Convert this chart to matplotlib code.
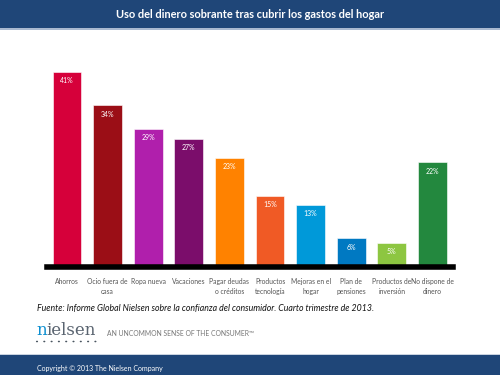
import matplotlib
matplotlib.use("Agg")
import matplotlib.pyplot as plt
from matplotlib.patches import Rectangle, Circle

plt.rcParams['font.family'] = ['Lato', 'DejaVu Sans']

# datos
categorias = ["Ahorros", "Ocio fuera de\ncasa", "Ropa nueva", "Vacaciones",
              "Pagar deudas\no créditos", "Productos\ntecnología",
              "Mejoras en el\nhogar", "Plan de\npensiones",
              "Productos de\ninversión", "No dispone de\ndinero"]
valores = [41, 34, 29, 27, 23, 15, 13, 6, 5, 22]
etiquetas = ["41%", "34%", "29%", "27%", "23%", "15%", "13%", "6%", "5%", "22%"]
colores = ["#d6003a", "#9b0e16", "#b01fac", "#7b0d6b", "#ff8200",
           "#f05a25", "#0099d9", "#0079c2", "#8dc641", "#23883e"]

titulo = "Uso del dinero sobrante tras cubrir los gastos del hogar"
fuente = "Fuente: Informe Global Nielsen sobre la confianza del consumidor. Cuarto trimestre de 2013."
lema = "AN UNCOMMON SENSE OF THE CONSUMER\u2122"
copyright_txt = "Copyright \u00a9 2013 The Nielsen Company"

azul = "#1f4678"

fig = plt.figure(figsize=(5, 3.75), dpi=100)
fig.patch.set_facecolor("white")

# barra de titulo
fig.patches.append(Rectangle((0, 1 - 28 / 375), 1, 28 / 375, transform=fig.transFigure,
                             facecolor=azul, edgecolor="none"))
fig.patches.append(Rectangle((0, 1 - 29.5 / 375), 1, 1.5 / 375, transform=fig.transFigure,
                             facecolor="#a9b9d0", edgecolor="none"))
fig.text(0.5, 1 - 15 / 375, titulo, color="white", fontsize=7.95, fontweight="bold",
         ha="center", va="center")

# grafico
ax = fig.add_axes([46.7 / 500, 1 - 267 / 375, 406 / 500, 195 / 375])
x = list(range(len(valores)))
ax.bar(x, valores, width=0.71, color=colores, edgecolor="#ffffff", linewidth=0.4)
for i, v in enumerate(valores):
    ax.text(i, v - 1.1, etiquetas[i], color="white", fontsize=5, ha="center", va="top")
ax.set_xlim(-0.5, len(valores) - 0.5)
ax.set_ylim(0, 41)
ax.axhline(0, color="black", linewidth=4, clip_on=False, zorder=5)
ax.set_yticks([])
ax.set_xticks(x)
ax.set_xticklabels(categorias, fontsize=4.9, color="#555555", linespacing=1.55,
                   multialignment="center")
ax.tick_params(axis="x", length=0, pad=8)
for s in ax.spines.values():
    s.set_visible(False)

# fuente
fig.text(37 / 500, 1 - 308 / 375, fuente, fontsize=6.3, style="italic", color="#111111",
         va="center", ha="left")

# logo nielsen
fig.text(36 / 500, 1 - 335 / 375, "n", fontsize=12, family="DejaVu Serif",
         color="#0d8fd0", va="baseline", ha="left")
fig.text(46.5 / 500, 1 - 335 / 375, "ielsen", fontsize=12, family="DejaVu Serif",
         color="#5a6470", va="baseline", ha="left")
for k in range(9):
    fig.patches.append(Circle(((37 + k * 7.3) / 500, 1 - 341.5 / 375), 0.8 / 375,
                              transform=fig.transFigure, facecolor="#4a5560",
                              edgecolor="none"))
fig.text(107 / 500, 1 - 334 / 375, lema, fontsize=4.9, color="#777777",
         va="center", ha="left")

# barra inferior
fig.patches.append(Rectangle((0, 0), 1, 20 / 375, transform=fig.transFigure,
                             facecolor=azul, edgecolor="none"))
fig.patches.append(Rectangle((0, 20 / 375), 1, 1.2 / 375, transform=fig.transFigure,
                             facecolor="#c9d3e0", edgecolor="none"))
fig.text(37 / 500, 1 - 368 / 375, copyright_txt, fontsize=5, color="white",
         va="center", ha="left")

fig.savefig("out.png", dpi=100)
